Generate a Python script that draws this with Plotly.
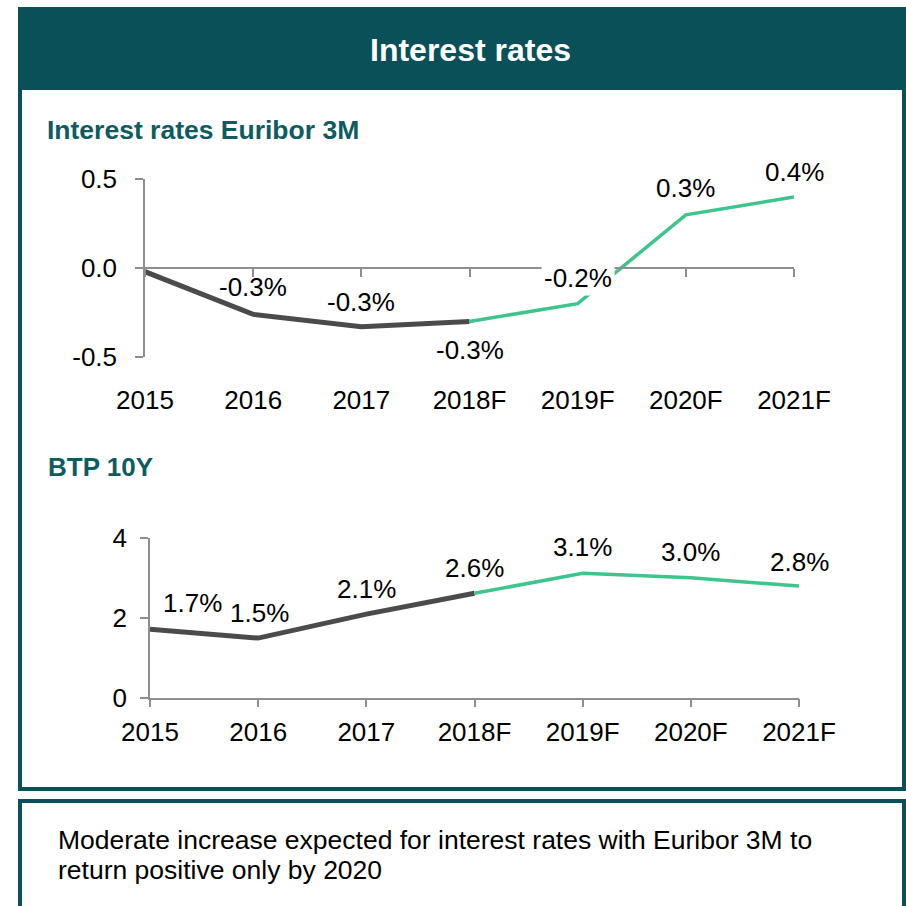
import plotly.graph_objects as go

# ---- data -------------------------------------------------------------
years = ["2015", "2016", "2017", "2018F", "2019F", "2020F", "2021F"]
euribor_3m = [-0.02, -0.26, -0.33, -0.30, -0.20, 0.30, 0.40]
btp_10y = [1.71, 1.49, 2.09, 2.61, 3.11, 3.00, 2.79]
last_actual = 3  # 2018F joins the historical and forecast segments

euribor_ticks = [-0.5, 0.0, 0.5]
euribor_ticktext = ["-0.5", "0.0", "0.5"]
btp_ticks = [0, 2, 4]

# which points carry a value label
euribor_labelled = [False, True, True, True, True, True, True]
btp_labelled = [True, True, True, True, True, True, True]

# ---- styling ------------------------------------------------------------
W = H = 906
TEAL = "#0A5058"
TEAL_TXT = "#0E5B60"
DARK = "#4B4B4B"
GREEN = "#3EC48D"
AXIS = "#8E8E8E"
FONT = "Liberation Sans, Arial, sans-serif"
FS = 26

# label offsets in pixels (x, y) relative to each point
euribor_off = [(0, 0), (0, 27), (0, 25), (0, -29), (0, 26), (0, 27), (0, 25)]
btp_off = [(42, 26), (1, 25), (0, 25), (0, 25), (0, 26), (0, 26), (0, 24)]
euribor_bg = [None, None, None, None, "white", None, None]


def px(x):
    return x / W


def py(y):
    return 1 - y / H


idx = list(range(len(years)))

fig = go.Figure()

# Euribor 3M: history and forecast
fig.add_trace(go.Scatter(x=idx[:last_actual + 1], y=euribor_3m[:last_actual + 1],
                         mode="lines", line=dict(color=DARK, width=5),
                         xaxis="x", yaxis="y", hoverinfo="skip"))
fig.add_trace(go.Scatter(x=idx[last_actual:], y=euribor_3m[last_actual:],
                         mode="lines", line=dict(color=GREEN, width=3.5),
                         xaxis="x", yaxis="y", hoverinfo="skip"))
# zero line carrier for the top chart
fig.add_trace(go.Scatter(x=[idx[0], idx[-1]], y=[0, 0], mode="lines",
                         line=dict(width=0), xaxis="x3", yaxis="y",
                         hoverinfo="skip"))

# BTP 10Y: history and forecast
fig.add_trace(go.Scatter(x=idx[:last_actual + 1], y=btp_10y[:last_actual + 1],
                         mode="lines", line=dict(color=DARK, width=5),
                         xaxis="x2", yaxis="y2", hoverinfo="skip"))
fig.add_trace(go.Scatter(x=idx[last_actual:], y=btp_10y[last_actual:],
                         mode="lines", line=dict(color=GREEN, width=3.5),
                         xaxis="x2", yaxis="y2", hoverinfo="skip"))

tick_font = dict(family=FONT, size=FS, color="#000000")
top_dom_y = [py(357), py(179.3)]
bot_dom_y = [py(697.7), py(537.7)]

fig.update_layout(
    template="none",
    width=W, height=H,
    margin=dict(l=0, r=0, t=0, b=0, pad=0, autoexpand=False),
    paper_bgcolor="white", plot_bgcolor="rgba(0,0,0,0)",
    showlegend=False,
    font=dict(family=FONT, size=FS, color="#000000"),
    # top chart: category labels along the bottom
    xaxis=dict(domain=[px(145), px(794)], range=[0, 6], anchor="y",
               tickvals=idx, ticktext=years, showline=False, ticks="",
               showgrid=False, zeroline=False, tickfont=tick_font,
               ticklabelstandoff=25, automargin=False),
    # top chart: axis line with ticks at zero
    xaxis3=dict(overlaying="x", matches="x", anchor="free",
                position=(top_dom_y[0] + top_dom_y[1]) / 2,
                tickvals=idx, showticklabels=False, showline=True,
                linecolor=AXIS, linewidth=1.5, ticks="outside", ticklen=8,
                tickcolor=AXIS, tickwidth=1.5, showgrid=False, zeroline=False,
                automargin=False),
    yaxis=dict(domain=top_dom_y, range=[-0.5, 0.5], anchor="x",
               tickvals=euribor_ticks, ticktext=euribor_ticktext,
               showline=True, linecolor=AXIS, linewidth=1.5,
               ticks="outside", ticklen=8, tickcolor=AXIS, tickwidth=1.5,
               showgrid=False, zeroline=False, tickfont=tick_font,
               ticklabelstandoff=13, automargin=False),
    xaxis2=dict(domain=[px(150), px(799)], range=[0, 6], anchor="y2",
                tickvals=idx, ticktext=years, showline=True, linecolor=AXIS,
                linewidth=1.5, ticks="outside", ticklen=8, tickcolor=AXIS,
                tickwidth=1.5, showgrid=False, zeroline=False,
                tickfont=tick_font, ticklabelstandoff=2, automargin=False),
    yaxis2=dict(domain=bot_dom_y, range=[0, 4], anchor="x2",
                tickvals=btp_ticks, showline=True, linecolor=AXIS,
                linewidth=1.5, ticks="outside", ticklen=8, tickcolor=AXIS,
                tickwidth=1.5, showgrid=False, zeroline=False,
                tickfont=tick_font, ticklabelstandoff=8, automargin=False),
)

# panel frame and header
shapes = [
    dict(type="rect", xref="paper", yref="paper", x0=px(20), x1=px(904),
         y0=py(789), y1=py(60), line=dict(color=TEAL, width=4),
         fillcolor="rgba(0,0,0,0)", layer="below"),
    dict(type="rect", xref="paper", yref="paper", x0=px(18), x1=px(906),
         y0=py(90), y1=py(7), line=dict(width=0), fillcolor=TEAL,
         layer="below"),
    dict(type="rect", xref="paper", yref="paper", x0=px(20), x1=px(904),
         y0=py(930), y1=py(801), line=dict(color=TEAL, width=4),
         fillcolor="rgba(0,0,0,0)", layer="below"),
]
fig.update_layout(shapes=shapes)

annotations = [
    dict(text="<b>Interest rates</b>", xref="paper", yref="paper",
         x=px(470), y=py(50), xanchor="center", yanchor="middle",
         showarrow=False, font=dict(family=FONT, size=32, color="white")),
    dict(text="<b>Interest rates Euribor 3M</b>", xref="paper", yref="paper",
         x=px(45), y=py(130), xanchor="left", yanchor="middle",
         showarrow=False, font=dict(family=FONT, size=26.5, color=TEAL_TXT)),
    dict(text="<b>BTP 10Y</b>", xref="paper", yref="paper",
         x=px(46), y=py(467), xanchor="left", yanchor="middle",
         showarrow=False, font=dict(family=FONT, size=26, color=TEAL_TXT)),
    dict(text="Moderate increase expected for interest rates with Euribor 3M to",
         xref="paper", yref="paper", x=px(56), y=py(840), xanchor="left",
         yanchor="middle", showarrow=False,
         font=dict(family=FONT, size=26.5, color="#000000")),
    dict(text="return positive only by 2020",
         xref="paper", yref="paper", x=px(56), y=py(870), xanchor="left",
         yanchor="middle", showarrow=False,
         font=dict(family=FONT, size=26.5, color="#000000")),
]

for i, v in enumerate(euribor_3m):
    if not euribor_labelled[i]:
        continue
    dx, dy = euribor_off[i]
    a = dict(text=f"{v:.1f}%", xref="x", yref="y", x=i, y=v,
             xshift=dx, yshift=dy, showarrow=False,
             xanchor="center", yanchor="middle",
             font=dict(family=FONT, size=FS, color="#000000"))
    if euribor_bg[i]:
        a.update(bgcolor=euribor_bg[i], borderpad=2)
    annotations.append(a)

for i, v in enumerate(btp_10y):
    if not btp_labelled[i]:
        continue
    dx, dy = btp_off[i]
    annotations.append(dict(text=f"{v:.1f}%", xref="x2", yref="y2", x=i, y=v,
                            xshift=dx, yshift=dy, showarrow=False,
                            xanchor="center", yanchor="middle",
                            font=dict(family=FONT, size=FS, color="#000000")))

fig.update_layout(annotations=annotations)

fig.write_html("out.html")
